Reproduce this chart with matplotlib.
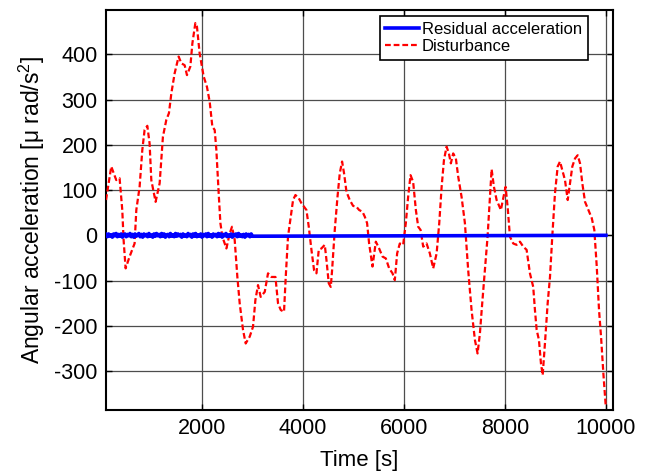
#!/usr/bin/env python3
"""Residual acceleration vs. disturbance torque, MATLAB-style figure."""

import matplotlib

matplotlib.use("Agg")
import matplotlib.pyplot as plt
import numpy as np

plt.rcParams["font.family"] = ["Liberation Sans", "DejaVu Sans"]
plt.rcParams["mathtext.default"] = "regular"
plt.rcParams["axes.unicode_minus"] = False

# disturbance
dist_time = [
    100, 204, 303, 369, 422, 448, 488, 567, 666, 700, 765, 819, 864, 918, 963,
    997, 1082, 1162, 1227, 1294, 1346, 1394, 1459, 1538, 1592, 1657, 1703, 1770,
    1810, 1869, 1901, 1954, 2034, 2099, 2153, 2206, 2252, 2285, 2331, 2365, 2404,
    2484, 2549, 2595, 2648, 2701, 2747, 2813, 2866, 2945, 3011, 3058, 3110, 3163,
    3243, 3308, 3375, 3455, 3506, 3560, 3625, 3659, 3704, 3758, 3804, 3851, 3917,
    3970, 4022, 4069, 4115, 4168, 4220, 4267, 4313, 4366, 4432, 4466, 4511, 4551,
    4577, 4630, 4684, 4729, 4775, 4814, 4862, 4927, 4993, 5060, 5112, 5179, 5225,
    5270, 5310, 5377, 5443, 5508, 5576, 5641, 5707, 5774, 5819, 5865, 5918, 5984,
    6037, 6083, 6130, 6182, 6236, 6282, 6329, 6381, 6448, 6513, 6579, 6647, 6699,
    6746, 6792, 6844, 6890, 6929, 6975, 7028, 7074, 7141, 7207, 7272, 7339, 7405,
    7458, 7504, 7550, 7603, 7656, 7702, 7736, 7782, 7835, 7920, 7966, 8013, 8053,
    8099, 8164, 8231, 8297, 8362, 8429, 8495, 8560, 8594, 8628, 8673, 8713, 8747,
    8792, 8846, 8892, 8937, 8991, 9044, 9090, 9136, 9189, 9243, 9288, 9334, 9388,
    9441, 9487, 9532, 9586, 9652, 9719, 9770, 9818, 9863, 9903, 9949, 9997,
]
dist_value = [
    78, 152, 122, 126, 56, -10, -73, -47, -18, 56, 107, 189, 233, 242, 203,
    122, 74, 115, 218, 255, 270, 314, 358, 395, 380, 376, 354, 373,
    424, 469, 461, 402, 351, 328, 295, 240, 233, 189, 93, 27, -3,
    -29, 4, 19, -10, -92, -150, -209, -239, -224, -202, -143, -110, -136,
    -125, -84, -92, -92, -150, -165, -169, -92, -3, 41, 78, 89, 82,
    71, 63, 56, 19, -32, -77, -84, -32, -29, -21, -55, -106, -114,
    -77, 12, 85, 137, 163, 137, 96, 78, 65, 63, 56, 52, 41,
    27, -18, -69, -14, -29, -47, -51, -73, -84, -99, -40, -18, -21,
    27, 85, 133, 118, 56, 19, 12, -25, -18, -40, -73, -40, 27,
    107, 166, 196, 181, 159, 181, 170, 130, 85, 27, -77, -165, -231,
    -261, -217, -150, -77, -3, 85, 146, 107, 78, 56, 82, 107, 63,
    -3, -18, -21, -14, -25, -32, -84, -114, -165, -209, -231, -283, -309,
    -239, -150, -92, -3, 93, 152, 163, 144, 122, 78, 115, 152, 170,
    177, 159, 115, 74, 56, 38, 12, -69, -165, -224, -305, -379,
]

# residual: small jitter until ~3000 s (25 s steps), then flat at zero
resid_time = list(np.arange(100, 3001, 25)) + [10000]
resid_value = [
    2, -3, 3, -2, 1, -4, 3, -1, 4, -3, 2, -2, 3, -4, 1, 3, -3, 2, -1, 4,
    -3, 2, -4, 3, -2, 1, 4, -3, 2, -4, 3, -1, 2, -3, 4, -2, 1, -4, 3, -2,
    4, -1, 2, -3, 4, -2, 3, -4, 1, 2, -3, 4, -2, 1, -3, 4, -2, 3, -1, 2,
    -4, 3, -2, 1, -3, 4, -1, 2, -4, 3, -2, 4, -3, 1, -2, 3, -4, 2, -1, 3,
    -3, 4, -2, 1, -4, 3, -1, 2, -3, 4, -2, 3, -4, 2, -1, 4, -3, 1, -2, 3,
    -4, 2, -1, 3, -3, 4, -2, 1, -3, 2, -4, 3, -1, 2, -3, 3, -2,
    0,
]

x_ticks = [2000, 4000, 6000, 8000, 10000]
y_ticks = [-300, -200, -100, 0, 100, 200, 300, 400]


def main() -> None:
    fig = plt.figure(figsize=(6.52, 4.74), dpi=100)
    ax = fig.add_axes([0.1626, 0.135, 0.7776, 0.844])

    ax.plot(dist_time, dist_value, color="#ff0000", lw=1.6, dashes=(2.6, 1.3),
            label="Disturbance", zorder=3)
    ax.plot(resid_time, resid_value, color="#0000ff", lw=2.6,
            label="Residual acceleration", zorder=4)

    ax.set_xlim(100, 10140)
    ax.set_ylim(-386, 498)
    ax.set_xticks(x_ticks)
    ax.set_yticks(y_ticks)
    ax.grid(True, color="0.3", lw=0.9, ls="-")
    ax.set_axisbelow(True)
    ax.tick_params(direction="in", length=4, width=1.0, top=True, right=True,
                   labelsize=15.5, pad=6, colors="black")
    for spine in ax.spines.values():
        spine.set_linewidth(1.5)
        spine.set_color("black")

    ax.set_xlabel("Time [s]", fontsize=16, labelpad=8)
    ax.set_ylabel("Angular acceleration [\u03bc rad/s$^{2}$]", fontsize=16.5,
                  labelpad=5)

    handles, labels = ax.get_legend_handles_labels()
    leg = ax.legend(handles[::-1], labels[::-1], loc="upper right",
                    bbox_to_anchor=(0.9507, 0.985),
                    borderaxespad=0, fontsize=12, fancybox=False,
                    framealpha=1, edgecolor="black", handlelength=2.0,
                    handletextpad=0.2, labelspacing=0.15, borderpad=0.35)
    leg.get_frame().set_linewidth(1.2)

    fig.savefig("out.png", dpi=100)
    plt.close(fig)


if __name__ == "__main__":
    main()
